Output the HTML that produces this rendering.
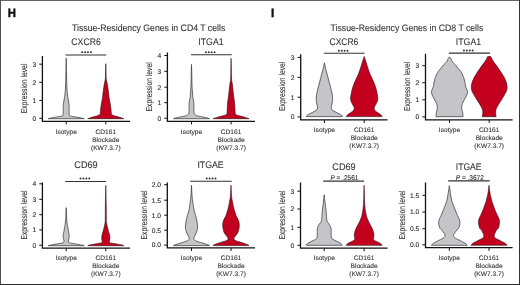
<!DOCTYPE html>
<html><head><meta charset="utf-8"><title>Tissue-Residency Genes</title>
<style>
html,body{margin:0;padding:0;background:#fff;}
#fig{position:relative;width:520px;height:285px;overflow:hidden;background:#fff;font-family:"Liberation Sans", sans-serif;}
#fig svg{position:absolute;left:0;top:0;display:block;will-change:transform;}
#fig svg text{stroke-width:0.1px;}
#fig svg text.sm{stroke-width:0.12px;}
#fig svg text.yl{stroke-width:0.12px;}
#fig svg text.pl{stroke-width:0.4px;}
.bd{position:absolute;}
#bt{left:0;top:0;width:520px;height:1px;background:#646464;}
#bl{left:0;top:0;width:1px;height:285px;background:#505050;}
#br{left:519px;top:0;width:1px;height:285px;background:#333;}
#bb{left:0;top:284px;width:520px;height:1px;background:#2a2a2a;}
</style></head>
<body><div id="fig">
<svg width="520" height="285" viewBox="0 0 520 285" text-rendering="geometricPrecision" font-family='"Liberation Sans", sans-serif'>
<text x="11.85" y="16.80" font-size="12.0" text-anchor="middle" textLength="8.20" lengthAdjust="spacingAndGlyphs" font-weight="bold" fill="#111" stroke="#111" class="pl">H</text>
<text x="272.75" y="16.70" font-size="12.0" text-anchor="middle" font-weight="bold" fill="#111" stroke="#111" class="pl">I</text>
<text x="148.65" y="30.60" font-size="9.4" text-anchor="middle" textLength="153.30" lengthAdjust="spacingAndGlyphs" fill="#333333" stroke="#333333">Tissue-Residency Genes in CD4 T cells</text>
<text x="406.95" y="30.60" font-size="9.4" text-anchor="middle" textLength="152.70" lengthAdjust="spacingAndGlyphs" fill="#333333" stroke="#333333">Tissue-Residency Genes in CD8 T cells</text>
<path d="M66.20,58.10 C66.26,60.92 66.43,70.18 66.55,75.00 C66.67,79.82 66.76,83.83 66.90,87.00 C67.04,90.17 67.20,92.07 67.40,94.00 C67.60,95.93 67.85,97.08 68.10,98.60 C68.35,100.12 68.72,101.58 68.90,103.10 C69.08,104.62 69.17,106.32 69.20,107.70 C69.23,109.08 69.10,110.35 69.10,111.40 C69.10,112.45 69.17,113.38 69.20,114.00 C69.23,114.62 69.15,114.78 69.30,115.10 C69.45,115.42 69.52,115.67 70.10,115.90 C70.68,116.13 72.00,116.35 72.80,116.50 C73.60,116.65 74.20,116.68 74.90,116.80 C75.60,116.92 76.30,117.07 77.00,117.20 C77.70,117.33 78.40,117.47 79.10,117.60 C79.80,117.73 80.47,117.87 81.20,118.00 C81.93,118.13 83.00,118.28 83.50,118.40 C84.00,118.52 84.08,118.65 84.20,118.70 L48.20,118.70 C48.32,118.65 48.40,118.52 48.90,118.40 C49.40,118.28 50.47,118.13 51.20,118.00 C51.93,117.87 52.60,117.73 53.30,117.60 C54.00,117.47 54.70,117.33 55.40,117.20 C56.10,117.07 56.80,116.92 57.50,116.80 C58.20,116.68 58.80,116.65 59.60,116.50 C60.40,116.35 61.72,116.13 62.30,115.90 C62.88,115.67 62.95,115.42 63.10,115.10 C63.25,114.78 63.17,114.62 63.20,114.00 C63.23,113.38 63.30,112.45 63.30,111.40 C63.30,110.35 63.17,109.08 63.20,107.70 C63.23,106.32 63.32,104.62 63.50,103.10 C63.68,101.58 64.05,100.12 64.30,98.60 C64.55,97.08 64.80,95.93 65.00,94.00 C65.20,92.07 65.36,90.17 65.50,87.00 C65.64,83.83 65.73,79.82 65.85,75.00 C65.97,70.18 66.14,60.92 66.20,58.10 Z" fill="#c5c4c8" stroke="#3c3c3c" stroke-width="0.75" stroke-linejoin="round"/>
<path d="M105.80,63.70 C105.83,65.08 105.92,69.45 106.00,72.00 C106.08,74.55 106.07,77.17 106.25,79.00 C106.43,80.83 106.77,81.17 107.10,83.00 C107.42,84.83 107.93,88.17 108.20,90.00 C108.47,91.83 108.53,92.57 108.70,94.00 C108.87,95.43 108.97,97.08 109.20,98.60 C109.43,100.12 109.83,101.58 110.10,103.10 C110.37,104.62 110.62,106.32 110.80,107.70 C110.98,109.08 111.10,110.37 111.20,111.40 C111.30,112.43 111.22,113.32 111.40,113.90 C111.58,114.48 111.73,114.57 112.30,114.90 C112.87,115.23 113.98,115.62 114.80,115.90 C115.62,116.18 116.38,116.37 117.20,116.60 C118.02,116.83 118.80,117.02 119.70,117.30 C120.60,117.58 121.92,118.07 122.60,118.30 C123.28,118.53 123.60,118.63 123.80,118.70 L87.80,118.70 C88.00,118.63 88.32,118.53 89.00,118.30 C89.68,118.07 91.00,117.58 91.90,117.30 C92.80,117.02 93.58,116.83 94.40,116.60 C95.22,116.37 95.98,116.18 96.80,115.90 C97.62,115.62 98.73,115.23 99.30,114.90 C99.87,114.57 100.02,114.48 100.20,113.90 C100.38,113.32 100.30,112.43 100.40,111.40 C100.50,110.37 100.62,109.08 100.80,107.70 C100.98,106.32 101.23,104.62 101.50,103.10 C101.77,101.58 102.17,100.12 102.40,98.60 C102.63,97.08 102.73,95.43 102.90,94.00 C103.07,92.57 103.13,91.83 103.40,90.00 C103.67,88.17 104.17,84.83 104.50,83.00 C104.83,81.17 105.17,80.83 105.35,79.00 C105.53,77.17 105.52,74.55 105.60,72.00 C105.67,69.45 105.77,65.08 105.80,63.70 Z" fill="#c4001f" stroke="#2a0a10" stroke-width="0.6" stroke-linejoin="round"/>
<path d="M42.40,56.00 L42.40,121.30 L130.00,121.30" fill="none" stroke="#111111" stroke-width="1.3"/>
<line x1="39.30" y1="118.30" x2="42.40" y2="118.30" stroke="#111111" stroke-width="1.0"/>
<text x="36.20" y="120.65" font-size="6.7" text-anchor="end" fill="#2e2e2e" stroke="#2e2e2e" class="sm">0</text>
<line x1="39.30" y1="100.40" x2="42.40" y2="100.40" stroke="#111111" stroke-width="1.0"/>
<text x="36.20" y="102.75" font-size="6.7" text-anchor="end" fill="#2e2e2e" stroke="#2e2e2e" class="sm">1</text>
<line x1="39.30" y1="82.30" x2="42.40" y2="82.30" stroke="#111111" stroke-width="1.0"/>
<text x="36.20" y="84.65" font-size="6.7" text-anchor="end" fill="#2e2e2e" stroke="#2e2e2e" class="sm">2</text>
<line x1="39.30" y1="64.20" x2="42.40" y2="64.20" stroke="#111111" stroke-width="1.0"/>
<text x="36.20" y="66.55" font-size="6.7" text-anchor="end" fill="#2e2e2e" stroke="#2e2e2e" class="sm">3</text>
<line x1="66.20" y1="121.30" x2="66.20" y2="124.40" stroke="#111111" stroke-width="1.0"/>
<line x1="105.80" y1="121.30" x2="105.80" y2="124.40" stroke="#111111" stroke-width="1.0"/>
<text x="86.05" y="44.50" font-size="9.6" text-anchor="middle" textLength="29.50" lengthAdjust="spacingAndGlyphs" fill="#333333" stroke="#333333">CXCR6</text>
<line x1="65.50" y1="55.00" x2="106.30" y2="55.00" stroke="#333" stroke-width="1.1"/>
<circle cx="82.15" cy="52.20" r="1.0" fill="#333"/>
<circle cx="85.05" cy="52.20" r="1.0" fill="#333"/>
<circle cx="87.95" cy="52.20" r="1.0" fill="#333"/>
<circle cx="90.85" cy="52.20" r="1.0" fill="#333"/>
<text x="0" y="0" font-size="8.6" text-anchor="middle" class="yl" fill="#333333" stroke="#333333" textLength="49.60" lengthAdjust="spacingAndGlyphs" transform="translate(26.70,88.40) rotate(-90)">Expression level</text>
<text x="66.20" y="133.70" font-size="6.6" text-anchor="middle" fill="#3a3a3a" stroke="#3a3a3a" class="sm">Isotype</text>
<text x="105.80" y="133.70" font-size="6.6" text-anchor="middle" fill="#3a3a3a" stroke="#3a3a3a" class="sm">CD161</text>
<text x="105.80" y="141.70" font-size="6.6" text-anchor="middle" fill="#3a3a3a" stroke="#3a3a3a" class="sm">Blockade</text>
<text x="105.80" y="149.70" font-size="6.6" text-anchor="middle" fill="#3a3a3a" stroke="#3a3a3a" class="sm">(KW7.3.7)</text>
<path d="M191.50,64.50 C191.55,66.25 191.72,71.58 191.80,75.00 C191.88,78.42 191.92,82.50 192.00,85.00 C192.08,87.50 192.20,88.50 192.30,90.00 C192.40,91.50 192.48,92.57 192.60,94.00 C192.72,95.43 192.82,97.38 193.00,98.60 C193.18,99.82 193.55,100.08 193.70,101.30 C193.85,102.52 193.87,104.38 193.90,105.90 C193.93,107.42 193.87,109.22 193.90,110.40 C193.93,111.58 194.02,112.42 194.10,113.00 C194.18,113.58 194.03,113.48 194.40,113.90 C194.77,114.32 195.63,115.13 196.30,115.50 C196.97,115.87 197.70,115.93 198.40,116.10 C199.10,116.27 199.80,116.37 200.50,116.50 C201.20,116.63 201.90,116.75 202.60,116.90 C203.30,117.05 204.00,117.25 204.70,117.40 C205.40,117.55 206.10,117.63 206.80,117.80 C207.50,117.97 208.45,118.25 208.90,118.40 C209.35,118.55 209.40,118.65 209.50,118.70 L173.50,118.70 C173.60,118.65 173.65,118.55 174.10,118.40 C174.55,118.25 175.50,117.97 176.20,117.80 C176.90,117.63 177.60,117.55 178.30,117.40 C179.00,117.25 179.70,117.05 180.40,116.90 C181.10,116.75 181.80,116.63 182.50,116.50 C183.20,116.37 183.90,116.27 184.60,116.10 C185.30,115.93 186.03,115.87 186.70,115.50 C187.37,115.13 188.23,114.32 188.60,113.90 C188.97,113.48 188.82,113.58 188.90,113.00 C188.98,112.42 189.07,111.58 189.10,110.40 C189.13,109.22 189.07,107.42 189.10,105.90 C189.13,104.38 189.15,102.52 189.30,101.30 C189.45,100.08 189.82,99.82 190.00,98.60 C190.18,97.38 190.28,95.43 190.40,94.00 C190.52,92.57 190.60,91.50 190.70,90.00 C190.80,88.50 190.92,87.50 191.00,85.00 C191.08,82.50 191.12,78.42 191.20,75.00 C191.28,71.58 191.45,66.25 191.50,64.50 Z" fill="#c5c4c8" stroke="#3c3c3c" stroke-width="0.75" stroke-linejoin="round"/>
<path d="M231.10,58.30 C231.13,60.25 231.22,66.55 231.30,70.00 C231.37,73.45 231.38,76.67 231.55,79.00 C231.72,81.33 232.06,82.17 232.30,84.00 C232.54,85.83 232.82,88.33 233.00,90.00 C233.18,91.67 233.23,92.57 233.40,94.00 C233.57,95.43 233.80,97.08 234.00,98.60 C234.20,100.12 234.45,101.58 234.60,103.10 C234.75,104.62 234.82,106.32 234.90,107.70 C234.98,109.08 235.05,110.40 235.10,111.40 C235.15,112.40 235.07,113.17 235.20,113.70 C235.33,114.23 235.45,114.32 235.90,114.60 C236.35,114.88 237.15,115.15 237.90,115.40 C238.65,115.65 239.58,115.87 240.40,116.10 C241.22,116.33 241.98,116.58 242.80,116.80 C243.62,117.02 244.40,117.15 245.30,117.40 C246.20,117.65 247.57,118.08 248.20,118.30 C248.83,118.52 248.95,118.63 249.10,118.70 L213.10,118.70 C213.25,118.63 213.37,118.52 214.00,118.30 C214.63,118.08 216.00,117.65 216.90,117.40 C217.80,117.15 218.58,117.02 219.40,116.80 C220.22,116.58 220.98,116.33 221.80,116.10 C222.62,115.87 223.55,115.65 224.30,115.40 C225.05,115.15 225.85,114.88 226.30,114.60 C226.75,114.32 226.87,114.23 227.00,113.70 C227.13,113.17 227.05,112.40 227.10,111.40 C227.15,110.40 227.22,109.08 227.30,107.70 C227.38,106.32 227.45,104.62 227.60,103.10 C227.75,101.58 228.00,100.12 228.20,98.60 C228.40,97.08 228.63,95.43 228.80,94.00 C228.97,92.57 229.02,91.67 229.20,90.00 C229.38,88.33 229.66,85.83 229.90,84.00 C230.14,82.17 230.48,81.33 230.65,79.00 C230.82,76.67 230.83,73.45 230.90,70.00 C230.97,66.55 231.07,60.25 231.10,58.30 Z" fill="#c4001f" stroke="#2a0a10" stroke-width="0.6" stroke-linejoin="round"/>
<path d="M167.40,52.50 L167.40,121.30 L255.00,121.30" fill="none" stroke="#111111" stroke-width="1.3"/>
<line x1="164.30" y1="118.20" x2="167.40" y2="118.20" stroke="#111111" stroke-width="1.0"/>
<text x="161.20" y="120.55" font-size="6.7" text-anchor="end" fill="#2e2e2e" stroke="#2e2e2e" class="sm">0</text>
<line x1="164.30" y1="102.70" x2="167.40" y2="102.70" stroke="#111111" stroke-width="1.0"/>
<text x="161.20" y="105.05" font-size="6.7" text-anchor="end" fill="#2e2e2e" stroke="#2e2e2e" class="sm">1</text>
<line x1="164.30" y1="87.20" x2="167.40" y2="87.20" stroke="#111111" stroke-width="1.0"/>
<text x="161.20" y="89.55" font-size="6.7" text-anchor="end" fill="#2e2e2e" stroke="#2e2e2e" class="sm">2</text>
<line x1="164.30" y1="71.30" x2="167.40" y2="71.30" stroke="#111111" stroke-width="1.0"/>
<text x="161.20" y="73.65" font-size="6.7" text-anchor="end" fill="#2e2e2e" stroke="#2e2e2e" class="sm">3</text>
<line x1="164.30" y1="55.50" x2="167.40" y2="55.50" stroke="#111111" stroke-width="1.0"/>
<text x="161.20" y="57.85" font-size="6.7" text-anchor="end" fill="#2e2e2e" stroke="#2e2e2e" class="sm">4</text>
<line x1="191.50" y1="121.30" x2="191.50" y2="124.40" stroke="#111111" stroke-width="1.0"/>
<line x1="231.10" y1="121.30" x2="231.10" y2="124.40" stroke="#111111" stroke-width="1.0"/>
<text x="210.95" y="44.60" font-size="9.6" text-anchor="middle" textLength="25.30" lengthAdjust="spacingAndGlyphs" fill="#333333" stroke="#333333">ITGA1</text>
<line x1="191.00" y1="54.80" x2="231.70" y2="54.80" stroke="#333" stroke-width="1.1"/>
<circle cx="205.85" cy="52.20" r="1.0" fill="#333"/>
<circle cx="208.75" cy="52.20" r="1.0" fill="#333"/>
<circle cx="211.65" cy="52.20" r="1.0" fill="#333"/>
<circle cx="214.55" cy="52.20" r="1.0" fill="#333"/>
<text x="0" y="0" font-size="8.6" text-anchor="middle" class="yl" fill="#333333" stroke="#333333" textLength="49.20" lengthAdjust="spacingAndGlyphs" transform="translate(152.00,86.90) rotate(-90)">Expression level</text>
<text x="191.50" y="133.70" font-size="6.6" text-anchor="middle" fill="#3a3a3a" stroke="#3a3a3a" class="sm">Isotype</text>
<text x="231.10" y="133.70" font-size="6.6" text-anchor="middle" fill="#3a3a3a" stroke="#3a3a3a" class="sm">CD161</text>
<text x="231.10" y="141.70" font-size="6.6" text-anchor="middle" fill="#3a3a3a" stroke="#3a3a3a" class="sm">Blockade</text>
<text x="231.10" y="149.70" font-size="6.6" text-anchor="middle" fill="#3a3a3a" stroke="#3a3a3a" class="sm">(KW7.3.7)</text>
<path d="M66.20,207.70 C66.25,208.92 66.38,212.62 66.50,215.00 C66.62,217.38 66.70,220.07 66.90,222.00 C67.10,223.93 67.45,225.08 67.70,226.60 C67.95,228.12 68.17,229.73 68.40,231.10 C68.63,232.47 68.97,233.75 69.10,234.80 C69.23,235.85 69.27,236.62 69.20,237.40 C69.13,238.18 68.85,238.90 68.70,239.50 C68.55,240.10 68.33,240.55 68.30,241.00 C68.27,241.45 68.32,241.90 68.50,242.20 C68.68,242.50 68.87,242.62 69.40,242.80 C69.93,242.98 70.93,243.15 71.70,243.30 C72.47,243.45 73.23,243.57 74.00,243.70 C74.77,243.83 75.53,243.98 76.30,244.10 C77.07,244.22 77.85,244.27 78.60,244.40 C79.35,244.53 79.97,244.73 80.80,244.90 C81.63,245.07 83.03,245.27 83.60,245.40 C84.17,245.53 84.10,245.65 84.20,245.70 L48.20,245.70 C48.30,245.65 48.23,245.53 48.80,245.40 C49.37,245.27 50.77,245.07 51.60,244.90 C52.43,244.73 53.05,244.53 53.80,244.40 C54.55,244.27 55.33,244.22 56.10,244.10 C56.87,243.98 57.63,243.83 58.40,243.70 C59.17,243.57 59.93,243.45 60.70,243.30 C61.47,243.15 62.47,242.98 63.00,242.80 C63.53,242.62 63.72,242.50 63.90,242.20 C64.08,241.90 64.13,241.45 64.10,241.00 C64.07,240.55 63.85,240.10 63.70,239.50 C63.55,238.90 63.27,238.18 63.20,237.40 C63.13,236.62 63.17,235.85 63.30,234.80 C63.43,233.75 63.77,232.47 64.00,231.10 C64.23,229.73 64.45,228.12 64.70,226.60 C64.95,225.08 65.30,223.93 65.50,222.00 C65.70,220.07 65.78,217.38 65.90,215.00 C66.02,212.62 66.15,208.92 66.20,207.70 Z" fill="#c5c4c8" stroke="#3c3c3c" stroke-width="0.75" stroke-linejoin="round"/>
<path d="M105.80,185.40 C105.87,188.67 106.12,199.57 106.20,205.00 C106.28,210.43 106.27,215.17 106.30,218.00 C106.33,220.83 106.23,220.57 106.40,222.00 C106.57,223.43 106.97,225.08 107.30,226.60 C107.63,228.12 108.07,229.87 108.40,231.10 C108.73,232.33 109.05,232.98 109.30,234.00 C109.55,235.02 109.85,236.15 109.90,237.20 C109.95,238.25 109.70,239.52 109.60,240.30 C109.50,241.08 109.17,241.47 109.30,241.90 C109.43,242.33 109.60,242.63 110.40,242.90 C111.20,243.17 113.05,243.32 114.10,243.50 C115.15,243.68 115.83,243.83 116.70,244.00 C117.57,244.17 118.33,244.32 119.30,244.50 C120.27,244.68 121.75,244.90 122.50,245.10 C123.25,245.30 123.58,245.60 123.80,245.70 L87.80,245.70 C88.02,245.60 88.35,245.30 89.10,245.10 C89.85,244.90 91.33,244.68 92.30,244.50 C93.27,244.32 94.03,244.17 94.90,244.00 C95.77,243.83 96.45,243.68 97.50,243.50 C98.55,243.32 100.40,243.17 101.20,242.90 C102.00,242.63 102.17,242.33 102.30,241.90 C102.43,241.47 102.10,241.08 102.00,240.30 C101.90,239.52 101.65,238.25 101.70,237.20 C101.75,236.15 102.05,235.02 102.30,234.00 C102.55,232.98 102.87,232.33 103.20,231.10 C103.53,229.87 103.97,228.12 104.30,226.60 C104.63,225.08 105.03,223.43 105.20,222.00 C105.37,220.57 105.27,220.83 105.30,218.00 C105.33,215.17 105.32,210.43 105.40,205.00 C105.48,199.57 105.73,188.67 105.80,185.40 Z" fill="#c4001f" stroke="#2a0a10" stroke-width="0.6" stroke-linejoin="round"/>
<path d="M42.40,182.40 L42.40,248.20 L130.00,248.20" fill="none" stroke="#111111" stroke-width="1.3"/>
<line x1="39.30" y1="245.20" x2="42.40" y2="245.20" stroke="#111111" stroke-width="1.0"/>
<text x="36.20" y="247.55" font-size="6.7" text-anchor="end" fill="#2e2e2e" stroke="#2e2e2e" class="sm">0</text>
<line x1="39.30" y1="229.90" x2="42.40" y2="229.90" stroke="#111111" stroke-width="1.0"/>
<text x="36.20" y="232.25" font-size="6.7" text-anchor="end" fill="#2e2e2e" stroke="#2e2e2e" class="sm">1</text>
<line x1="39.30" y1="214.70" x2="42.40" y2="214.70" stroke="#111111" stroke-width="1.0"/>
<text x="36.20" y="217.05" font-size="6.7" text-anchor="end" fill="#2e2e2e" stroke="#2e2e2e" class="sm">2</text>
<line x1="39.30" y1="199.30" x2="42.40" y2="199.30" stroke="#111111" stroke-width="1.0"/>
<text x="36.20" y="201.65" font-size="6.7" text-anchor="end" fill="#2e2e2e" stroke="#2e2e2e" class="sm">3</text>
<line x1="39.30" y1="183.80" x2="42.40" y2="183.80" stroke="#111111" stroke-width="1.0"/>
<text x="36.20" y="186.15" font-size="6.7" text-anchor="end" fill="#2e2e2e" stroke="#2e2e2e" class="sm">4</text>
<line x1="66.20" y1="248.20" x2="66.20" y2="251.30" stroke="#111111" stroke-width="1.0"/>
<line x1="105.80" y1="248.20" x2="105.80" y2="251.30" stroke="#111111" stroke-width="1.0"/>
<text x="85.95" y="168.30" font-size="9.6" text-anchor="middle" textLength="23.30" lengthAdjust="spacingAndGlyphs" fill="#333333" stroke="#333333">CD69</text>
<line x1="65.20" y1="181.50" x2="106.10" y2="181.50" stroke="#333" stroke-width="1.1"/>
<circle cx="80.55" cy="178.60" r="1.0" fill="#333"/>
<circle cx="83.45" cy="178.60" r="1.0" fill="#333"/>
<circle cx="86.35" cy="178.60" r="1.0" fill="#333"/>
<circle cx="89.25" cy="178.60" r="1.0" fill="#333"/>
<text x="0" y="0" font-size="8.6" text-anchor="middle" class="yl" fill="#333333" stroke="#333333" textLength="49.10" lengthAdjust="spacingAndGlyphs" transform="translate(27.00,214.95) rotate(-90)">Expression level</text>
<text x="66.20" y="260.40" font-size="6.6" text-anchor="middle" fill="#3a3a3a" stroke="#3a3a3a" class="sm">Isotype</text>
<text x="105.80" y="260.40" font-size="6.6" text-anchor="middle" fill="#3a3a3a" stroke="#3a3a3a" class="sm">CD161</text>
<text x="105.80" y="268.30" font-size="6.6" text-anchor="middle" fill="#3a3a3a" stroke="#3a3a3a" class="sm">Blockade</text>
<text x="105.80" y="276.20" font-size="6.6" text-anchor="middle" fill="#3a3a3a" stroke="#3a3a3a" class="sm">(KW7.3.7)</text>
<path d="M191.50,185.30 C191.58,186.95 191.82,192.60 192.00,195.20 C192.18,197.80 192.37,199.02 192.60,200.90 C192.83,202.78 193.08,204.63 193.40,206.50 C193.72,208.37 194.13,210.60 194.50,212.10 C194.87,213.60 195.23,214.18 195.60,215.50 C195.97,216.82 196.37,218.25 196.70,220.00 C197.03,221.75 197.52,224.35 197.60,226.00 C197.68,227.65 197.50,228.62 197.20,229.90 C196.90,231.18 196.23,232.67 195.80,233.70 C195.37,234.73 194.93,235.35 194.60,236.10 C194.27,236.85 193.88,237.58 193.80,238.20 C193.72,238.82 193.80,239.37 194.10,239.80 C194.40,240.23 195.00,240.50 195.60,240.80 C196.20,241.10 196.90,241.33 197.70,241.60 C198.50,241.87 199.52,242.13 200.40,242.40 C201.28,242.67 202.13,242.93 203.00,243.20 C203.87,243.47 204.63,243.68 205.60,244.00 C206.57,244.32 208.15,244.83 208.80,245.10 C209.45,245.37 209.38,245.52 209.50,245.60 L173.50,245.60 C173.62,245.52 173.55,245.37 174.20,245.10 C174.85,244.83 176.43,244.32 177.40,244.00 C178.37,243.68 179.13,243.47 180.00,243.20 C180.87,242.93 181.72,242.67 182.60,242.40 C183.48,242.13 184.50,241.87 185.30,241.60 C186.10,241.33 186.80,241.10 187.40,240.80 C188.00,240.50 188.60,240.23 188.90,239.80 C189.20,239.37 189.28,238.82 189.20,238.20 C189.12,237.58 188.73,236.85 188.40,236.10 C188.07,235.35 187.63,234.73 187.20,233.70 C186.77,232.67 186.10,231.18 185.80,229.90 C185.50,228.62 185.32,227.65 185.40,226.00 C185.48,224.35 185.97,221.75 186.30,220.00 C186.63,218.25 187.03,216.82 187.40,215.50 C187.77,214.18 188.13,213.60 188.50,212.10 C188.87,210.60 189.28,208.37 189.60,206.50 C189.92,204.63 190.17,202.78 190.40,200.90 C190.63,199.02 190.82,197.80 191.00,195.20 C191.18,192.60 191.42,186.95 191.50,185.30 Z" fill="#c5c4c8" stroke="#3c3c3c" stroke-width="0.75" stroke-linejoin="round"/>
<path d="M231.00,185.30 C231.08,186.95 231.28,192.60 231.50,195.20 C231.72,197.80 231.98,199.02 232.30,200.90 C232.62,202.78 232.97,204.63 233.40,206.50 C233.83,208.37 234.47,210.60 234.90,212.10 C235.33,213.60 235.63,214.58 236.00,215.50 C236.37,216.42 236.65,216.65 237.10,217.60 C237.55,218.55 238.33,220.02 238.70,221.20 C239.07,222.38 239.25,223.52 239.30,224.70 C239.35,225.88 239.20,227.10 239.00,228.30 C238.80,229.50 238.45,230.95 238.10,231.90 C237.75,232.85 237.35,233.30 236.90,234.00 C236.45,234.70 235.88,235.40 235.40,236.10 C234.92,236.80 234.18,237.58 234.00,238.20 C233.82,238.82 233.98,239.37 234.30,239.80 C234.62,240.23 235.20,240.50 235.90,240.80 C236.60,241.10 237.62,241.33 238.50,241.60 C239.38,241.87 240.32,242.13 241.20,242.40 C242.08,242.67 243.02,242.93 243.80,243.20 C244.58,243.47 245.12,243.68 245.90,244.00 C246.68,244.32 247.98,244.83 248.50,245.10 C249.02,245.37 248.92,245.52 249.00,245.60 L213.00,245.60 C213.08,245.52 212.98,245.37 213.50,245.10 C214.02,244.83 215.32,244.32 216.10,244.00 C216.88,243.68 217.42,243.47 218.20,243.20 C218.98,242.93 219.92,242.67 220.80,242.40 C221.68,242.13 222.62,241.87 223.50,241.60 C224.38,241.33 225.40,241.10 226.10,240.80 C226.80,240.50 227.38,240.23 227.70,239.80 C228.02,239.37 228.18,238.82 228.00,238.20 C227.82,237.58 227.08,236.80 226.60,236.10 C226.12,235.40 225.55,234.70 225.10,234.00 C224.65,233.30 224.25,232.85 223.90,231.90 C223.55,230.95 223.20,229.50 223.00,228.30 C222.80,227.10 222.65,225.88 222.70,224.70 C222.75,223.52 222.93,222.38 223.30,221.20 C223.67,220.02 224.45,218.55 224.90,217.60 C225.35,216.65 225.63,216.42 226.00,215.50 C226.37,214.58 226.67,213.60 227.10,212.10 C227.53,210.60 228.17,208.37 228.60,206.50 C229.03,204.63 229.38,202.78 229.70,200.90 C230.02,199.02 230.28,197.80 230.50,195.20 C230.72,192.60 230.92,186.95 231.00,185.30 Z" fill="#c4001f" stroke="#2a0a10" stroke-width="0.6" stroke-linejoin="round"/>
<path d="M167.30,182.60 L167.30,247.90 L255.00,247.90" fill="none" stroke="#111111" stroke-width="1.3"/>
<line x1="164.20" y1="245.10" x2="167.30" y2="245.10" stroke="#111111" stroke-width="1.0"/>
<text x="161.10" y="247.45" font-size="6.7" text-anchor="end" fill="#2e2e2e" stroke="#2e2e2e" class="sm">0.0</text>
<line x1="164.20" y1="230.20" x2="167.30" y2="230.20" stroke="#111111" stroke-width="1.0"/>
<text x="161.10" y="232.55" font-size="6.7" text-anchor="end" fill="#2e2e2e" stroke="#2e2e2e" class="sm">0.5</text>
<line x1="164.20" y1="215.20" x2="167.30" y2="215.20" stroke="#111111" stroke-width="1.0"/>
<text x="161.10" y="217.55" font-size="6.7" text-anchor="end" fill="#2e2e2e" stroke="#2e2e2e" class="sm">1.0</text>
<line x1="164.20" y1="200.20" x2="167.30" y2="200.20" stroke="#111111" stroke-width="1.0"/>
<text x="161.10" y="202.55" font-size="6.7" text-anchor="end" fill="#2e2e2e" stroke="#2e2e2e" class="sm">1.5</text>
<line x1="164.20" y1="184.70" x2="167.30" y2="184.70" stroke="#111111" stroke-width="1.0"/>
<text x="161.10" y="187.05" font-size="6.7" text-anchor="end" fill="#2e2e2e" stroke="#2e2e2e" class="sm">2.0</text>
<line x1="191.50" y1="247.90" x2="191.50" y2="251.00" stroke="#111111" stroke-width="1.0"/>
<line x1="231.00" y1="247.90" x2="231.00" y2="251.00" stroke="#111111" stroke-width="1.0"/>
<text x="210.50" y="168.30" font-size="9.6" text-anchor="middle" textLength="26.20" lengthAdjust="spacingAndGlyphs" fill="#333333" stroke="#333333">ITGAE</text>
<line x1="190.20" y1="181.30" x2="231.70" y2="181.30" stroke="#333" stroke-width="1.1"/>
<circle cx="206.75" cy="178.60" r="1.0" fill="#333"/>
<circle cx="209.65" cy="178.60" r="1.0" fill="#333"/>
<circle cx="212.55" cy="178.60" r="1.0" fill="#333"/>
<circle cx="215.45" cy="178.60" r="1.0" fill="#333"/>
<text x="0" y="0" font-size="8.6" text-anchor="middle" class="yl" fill="#333333" stroke="#333333" textLength="49.00" lengthAdjust="spacingAndGlyphs" transform="translate(146.60,214.90) rotate(-90)">Expression level</text>
<text x="191.50" y="260.40" font-size="6.6" text-anchor="middle" fill="#3a3a3a" stroke="#3a3a3a" class="sm">Isotype</text>
<text x="231.00" y="260.40" font-size="6.6" text-anchor="middle" fill="#3a3a3a" stroke="#3a3a3a" class="sm">CD161</text>
<text x="231.00" y="268.30" font-size="6.6" text-anchor="middle" fill="#3a3a3a" stroke="#3a3a3a" class="sm">Blockade</text>
<text x="231.00" y="276.20" font-size="6.6" text-anchor="middle" fill="#3a3a3a" stroke="#3a3a3a" class="sm">(KW7.3.7)</text>
<path d="M324.40,62.80 C324.60,63.73 325.15,66.53 325.60,68.40 C326.05,70.27 326.55,71.88 327.10,74.00 C327.65,76.12 328.28,78.75 328.90,81.10 C329.52,83.45 330.23,85.77 330.80,88.10 C331.37,90.43 332.00,93.23 332.30,95.10 C332.60,96.97 332.65,97.82 332.60,99.30 C332.55,100.78 332.20,102.87 332.00,104.00 C331.80,105.13 331.52,105.40 331.40,106.10 C331.28,106.80 331.20,107.58 331.30,108.20 C331.40,108.82 331.58,109.32 332.00,109.80 C332.42,110.28 333.15,110.70 333.80,111.10 C334.45,111.50 335.20,111.85 335.90,112.20 C336.60,112.55 337.30,112.85 338.00,113.20 C338.70,113.55 339.43,113.90 340.10,114.30 C340.77,114.70 341.62,115.22 342.00,115.60 C342.38,115.98 342.33,116.43 342.40,116.60 L306.40,116.60 C306.47,116.43 306.42,115.98 306.80,115.60 C307.18,115.22 308.03,114.70 308.70,114.30 C309.37,113.90 310.10,113.55 310.80,113.20 C311.50,112.85 312.20,112.55 312.90,112.20 C313.60,111.85 314.35,111.50 315.00,111.10 C315.65,110.70 316.38,110.28 316.80,109.80 C317.22,109.32 317.40,108.82 317.50,108.20 C317.60,107.58 317.52,106.80 317.40,106.10 C317.28,105.40 317.00,105.13 316.80,104.00 C316.60,102.87 316.25,100.78 316.20,99.30 C316.15,97.82 316.20,96.97 316.50,95.10 C316.80,93.23 317.43,90.43 318.00,88.10 C318.57,85.77 319.28,83.45 319.90,81.10 C320.52,78.75 321.15,76.12 321.70,74.00 C322.25,71.88 322.75,70.27 323.20,68.40 C323.65,66.53 324.20,63.73 324.40,62.80 Z" fill="#c5c4c8" stroke="#3c3c3c" stroke-width="0.75" stroke-linejoin="round"/>
<path d="M364.20,56.40 C364.43,57.08 365.13,59.02 365.60,60.50 C366.07,61.98 366.50,63.68 367.00,65.30 C367.50,66.92 368.03,68.58 368.60,70.20 C369.17,71.82 369.72,73.40 370.40,75.00 C371.08,76.60 371.97,78.18 372.70,79.80 C373.43,81.42 374.20,83.08 374.80,84.70 C375.40,86.32 375.88,87.88 376.30,89.50 C376.72,91.12 377.05,92.78 377.30,94.40 C377.55,96.02 377.95,97.72 377.80,99.20 C377.65,100.68 376.93,102.05 376.40,103.30 C375.87,104.55 374.97,105.80 374.60,106.70 C374.23,107.60 374.12,108.03 374.20,108.70 C374.28,109.37 374.50,110.03 375.10,110.70 C375.70,111.37 376.95,112.10 377.80,112.70 C378.65,113.30 379.52,113.75 380.20,114.30 C380.88,114.85 381.57,115.62 381.90,116.00 C382.23,116.38 382.15,116.50 382.20,116.60 L346.20,116.60 C346.25,116.50 346.17,116.38 346.50,116.00 C346.83,115.62 347.52,114.85 348.20,114.30 C348.88,113.75 349.75,113.30 350.60,112.70 C351.45,112.10 352.70,111.37 353.30,110.70 C353.90,110.03 354.12,109.37 354.20,108.70 C354.28,108.03 354.17,107.60 353.80,106.70 C353.43,105.80 352.53,104.55 352.00,103.30 C351.47,102.05 350.75,100.68 350.60,99.20 C350.45,97.72 350.85,96.02 351.10,94.40 C351.35,92.78 351.68,91.12 352.10,89.50 C352.52,87.88 353.00,86.32 353.60,84.70 C354.20,83.08 354.97,81.42 355.70,79.80 C356.43,78.18 357.32,76.60 358.00,75.00 C358.68,73.40 359.23,71.82 359.80,70.20 C360.37,68.58 360.90,66.92 361.40,65.30 C361.90,63.68 362.33,61.98 362.80,60.50 C363.27,59.02 363.97,57.08 364.20,56.40 Z" fill="#c4001f" stroke="#2a0a10" stroke-width="0.6" stroke-linejoin="round"/>
<path d="M300.70,54.30 L300.70,119.90 L387.50,119.90" fill="none" stroke="#111111" stroke-width="1.3"/>
<line x1="297.60" y1="116.90" x2="300.70" y2="116.90" stroke="#111111" stroke-width="1.0"/>
<text x="294.50" y="119.25" font-size="6.7" text-anchor="end" fill="#2e2e2e" stroke="#2e2e2e" class="sm">0</text>
<line x1="297.60" y1="97.20" x2="300.70" y2="97.20" stroke="#111111" stroke-width="1.0"/>
<text x="294.50" y="99.55" font-size="6.7" text-anchor="end" fill="#2e2e2e" stroke="#2e2e2e" class="sm">1</text>
<line x1="297.60" y1="77.30" x2="300.70" y2="77.30" stroke="#111111" stroke-width="1.0"/>
<text x="294.50" y="79.65" font-size="6.7" text-anchor="end" fill="#2e2e2e" stroke="#2e2e2e" class="sm">2</text>
<line x1="297.60" y1="57.40" x2="300.70" y2="57.40" stroke="#111111" stroke-width="1.0"/>
<text x="294.50" y="59.75" font-size="6.7" text-anchor="end" fill="#2e2e2e" stroke="#2e2e2e" class="sm">3</text>
<line x1="324.40" y1="119.90" x2="324.40" y2="123.00" stroke="#111111" stroke-width="1.0"/>
<line x1="364.20" y1="119.90" x2="364.20" y2="123.00" stroke="#111111" stroke-width="1.0"/>
<text x="343.95" y="44.50" font-size="9.6" text-anchor="middle" textLength="28.70" lengthAdjust="spacingAndGlyphs" fill="#333333" stroke="#333333">CXCR6</text>
<line x1="323.80" y1="53.30" x2="364.50" y2="53.30" stroke="#333" stroke-width="1.1"/>
<circle cx="338.85" cy="50.70" r="1.0" fill="#333"/>
<circle cx="341.75" cy="50.70" r="1.0" fill="#333"/>
<circle cx="344.65" cy="50.70" r="1.0" fill="#333"/>
<circle cx="347.55" cy="50.70" r="1.0" fill="#333"/>
<text x="0" y="0" font-size="8.6" text-anchor="middle" class="yl" fill="#333333" stroke="#333333" textLength="49.30" lengthAdjust="spacingAndGlyphs" transform="translate(284.50,86.35) rotate(-90)">Expression level</text>
<text x="324.40" y="132.00" font-size="6.6" text-anchor="middle" fill="#3a3a3a" stroke="#3a3a3a" class="sm">Isotype</text>
<text x="364.20" y="132.00" font-size="6.6" text-anchor="middle" fill="#3a3a3a" stroke="#3a3a3a" class="sm">CD161</text>
<text x="364.20" y="140.00" font-size="6.6" text-anchor="middle" fill="#3a3a3a" stroke="#3a3a3a" class="sm">Blockade</text>
<text x="364.20" y="148.00" font-size="6.6" text-anchor="middle" fill="#3a3a3a" stroke="#3a3a3a" class="sm">(KW7.3.7)</text>
<path d="M450.00,57.20 C450.17,57.48 450.62,58.15 451.00,58.90 C451.38,59.65 451.60,60.75 452.30,61.70 C453.00,62.65 454.25,63.53 455.20,64.60 C456.15,65.67 457.07,66.93 458.00,68.10 C458.93,69.27 460.02,70.45 460.80,71.60 C461.58,72.75 462.22,74.02 462.70,75.00 C463.18,75.98 463.33,76.33 463.70,77.50 C464.07,78.67 464.58,80.50 464.90,82.00 C465.22,83.50 465.20,85.07 465.60,86.50 C466.00,87.93 467.03,89.33 467.30,90.60 C467.57,91.87 467.60,92.75 467.20,94.10 C466.80,95.45 465.68,97.15 464.90,98.70 C464.12,100.25 463.03,101.95 462.50,103.40 C461.97,104.85 461.72,106.05 461.70,107.40 C461.68,108.75 462.18,110.33 462.40,111.50 C462.62,112.67 462.90,113.53 463.00,114.40 C463.10,115.27 463.00,116.32 463.00,116.70 L436.00,116.70 C436.00,116.32 435.90,115.27 436.00,114.40 C436.10,113.53 436.38,112.67 436.60,111.50 C436.82,110.33 437.32,108.75 437.30,107.40 C437.28,106.05 437.03,104.85 436.50,103.40 C435.97,101.95 434.88,100.25 434.10,98.70 C433.32,97.15 432.20,95.45 431.80,94.10 C431.40,92.75 431.43,91.87 431.70,90.60 C431.97,89.33 433.00,87.93 433.40,86.50 C433.80,85.07 433.78,83.50 434.10,82.00 C434.42,80.50 434.93,78.67 435.30,77.50 C435.67,76.33 435.82,75.98 436.30,75.00 C436.78,74.02 437.42,72.75 438.20,71.60 C438.98,70.45 440.07,69.27 441.00,68.10 C441.93,66.93 442.85,65.67 443.80,64.60 C444.75,63.53 446.00,62.65 446.70,61.70 C447.40,60.75 447.62,59.65 448.00,58.90 C448.38,58.15 448.83,57.48 449.00,57.20 Z" fill="#c5c4c8" stroke="#3c3c3c" stroke-width="0.75" stroke-linejoin="round"/>
<path d="M490.70,56.50 C490.77,56.63 490.90,56.88 491.10,57.30 C491.30,57.72 491.57,58.38 491.90,59.00 C492.23,59.62 492.47,60.07 493.10,61.00 C493.73,61.93 494.85,63.42 495.70,64.60 C496.55,65.78 497.38,66.93 498.20,68.10 C499.02,69.27 499.83,70.45 500.60,71.60 C501.37,72.75 502.18,74.02 502.80,75.00 C503.42,75.98 503.73,76.33 504.30,77.50 C504.87,78.67 505.73,80.50 506.20,82.00 C506.67,83.50 507.03,85.07 507.10,86.50 C507.17,87.93 507.08,89.13 506.60,90.60 C506.12,92.07 505.07,93.75 504.20,95.30 C503.33,96.85 502.35,98.37 501.40,99.90 C500.45,101.43 499.38,102.97 498.50,104.50 C497.62,106.03 496.58,107.75 496.10,109.10 C495.62,110.45 495.60,111.33 495.60,112.60 C495.60,113.87 496.02,116.02 496.10,116.70 L482.30,116.70 C482.38,116.02 482.80,113.87 482.80,112.60 C482.80,111.33 482.78,110.45 482.30,109.10 C481.82,107.75 480.78,106.03 479.90,104.50 C479.02,102.97 477.95,101.43 477.00,99.90 C476.05,98.37 475.07,96.85 474.20,95.30 C473.33,93.75 472.28,92.07 471.80,90.60 C471.32,89.13 471.23,87.93 471.30,86.50 C471.37,85.07 471.73,83.50 472.20,82.00 C472.67,80.50 473.53,78.67 474.10,77.50 C474.67,76.33 474.98,75.98 475.60,75.00 C476.22,74.02 477.03,72.75 477.80,71.60 C478.57,70.45 479.38,69.27 480.20,68.10 C481.02,66.93 481.85,65.78 482.70,64.60 C483.55,63.42 484.67,61.93 485.30,61.00 C485.93,60.07 486.17,59.62 486.50,59.00 C486.83,58.38 487.10,57.72 487.30,57.30 C487.50,56.88 487.63,56.63 487.70,56.50 Z" fill="#c4001f" stroke="#2a0a10" stroke-width="0.6" stroke-linejoin="round"/>
<path d="M425.50,53.70 L425.50,119.80 L512.60,119.80" fill="none" stroke="#111111" stroke-width="1.3"/>
<line x1="422.40" y1="116.90" x2="425.50" y2="116.90" stroke="#111111" stroke-width="1.0"/>
<text x="419.30" y="119.25" font-size="6.7" text-anchor="end" fill="#2e2e2e" stroke="#2e2e2e" class="sm">0</text>
<line x1="422.40" y1="99.80" x2="425.50" y2="99.80" stroke="#111111" stroke-width="1.0"/>
<text x="419.30" y="102.15" font-size="6.7" text-anchor="end" fill="#2e2e2e" stroke="#2e2e2e" class="sm">1</text>
<line x1="422.40" y1="82.70" x2="425.50" y2="82.70" stroke="#111111" stroke-width="1.0"/>
<text x="419.30" y="85.05" font-size="6.7" text-anchor="end" fill="#2e2e2e" stroke="#2e2e2e" class="sm">2</text>
<line x1="422.40" y1="65.70" x2="425.50" y2="65.70" stroke="#111111" stroke-width="1.0"/>
<text x="419.30" y="68.05" font-size="6.7" text-anchor="end" fill="#2e2e2e" stroke="#2e2e2e" class="sm">3</text>
<line x1="449.50" y1="119.80" x2="449.50" y2="122.90" stroke="#111111" stroke-width="1.0"/>
<line x1="489.20" y1="119.80" x2="489.20" y2="122.90" stroke="#111111" stroke-width="1.0"/>
<text x="468.45" y="44.60" font-size="9.6" text-anchor="middle" textLength="25.30" lengthAdjust="spacingAndGlyphs" fill="#333333" stroke="#333333">ITGA1</text>
<line x1="448.80" y1="53.10" x2="490.00" y2="53.10" stroke="#333" stroke-width="1.1"/>
<circle cx="463.95" cy="50.50" r="1.0" fill="#333"/>
<circle cx="466.85" cy="50.50" r="1.0" fill="#333"/>
<circle cx="469.75" cy="50.50" r="1.0" fill="#333"/>
<circle cx="472.65" cy="50.50" r="1.0" fill="#333"/>
<text x="0" y="0" font-size="8.6" text-anchor="middle" class="yl" fill="#333333" stroke="#333333" textLength="49.30" lengthAdjust="spacingAndGlyphs" transform="translate(409.90,86.35) rotate(-90)">Expression level</text>
<text x="449.50" y="132.00" font-size="6.6" text-anchor="middle" fill="#3a3a3a" stroke="#3a3a3a" class="sm">Isotype</text>
<text x="489.20" y="132.00" font-size="6.6" text-anchor="middle" fill="#3a3a3a" stroke="#3a3a3a" class="sm">CD161</text>
<text x="489.20" y="140.00" font-size="6.6" text-anchor="middle" fill="#3a3a3a" stroke="#3a3a3a" class="sm">Blockade</text>
<text x="489.20" y="148.00" font-size="6.6" text-anchor="middle" fill="#3a3a3a" stroke="#3a3a3a" class="sm">(KW7.3.7)</text>
<path d="M324.20,194.80 C324.35,196.20 324.82,200.85 325.10,203.20 C325.38,205.55 325.68,207.02 325.90,208.90 C326.12,210.78 326.28,212.98 326.40,214.50 C326.52,216.02 326.48,216.88 326.60,218.00 C326.72,219.12 326.67,220.15 327.10,221.20 C327.53,222.25 328.58,223.25 329.20,224.30 C329.82,225.35 330.47,226.45 330.80,227.50 C331.13,228.55 331.15,229.38 331.20,230.60 C331.25,231.82 331.08,233.72 331.10,234.80 C331.12,235.88 331.15,236.45 331.30,237.10 C331.45,237.75 331.57,238.23 332.00,238.70 C332.43,239.17 333.20,239.52 333.90,239.90 C334.60,240.28 335.45,240.63 336.20,241.00 C336.95,241.37 337.70,241.73 338.40,242.10 C339.10,242.47 339.80,242.78 340.40,243.20 C341.00,243.62 341.70,244.25 342.00,244.60 C342.30,244.95 342.17,245.18 342.20,245.30 L306.20,245.30 C306.23,245.18 306.10,244.95 306.40,244.60 C306.70,244.25 307.40,243.62 308.00,243.20 C308.60,242.78 309.30,242.47 310.00,242.10 C310.70,241.73 311.45,241.37 312.20,241.00 C312.95,240.63 313.80,240.28 314.50,239.90 C315.20,239.52 315.97,239.17 316.40,238.70 C316.83,238.23 316.95,237.75 317.10,237.10 C317.25,236.45 317.28,235.88 317.30,234.80 C317.32,233.72 317.15,231.82 317.20,230.60 C317.25,229.38 317.27,228.55 317.60,227.50 C317.93,226.45 318.58,225.35 319.20,224.30 C319.82,223.25 320.87,222.25 321.30,221.20 C321.73,220.15 321.68,219.12 321.80,218.00 C321.92,216.88 321.88,216.02 322.00,214.50 C322.12,212.98 322.28,210.78 322.50,208.90 C322.72,207.02 323.02,205.55 323.30,203.20 C323.58,200.85 324.05,196.20 324.20,194.80 Z" fill="#c5c4c8" stroke="#3c3c3c" stroke-width="0.75" stroke-linejoin="round"/>
<path d="M364.10,185.30 C364.17,187.75 364.37,196.47 364.50,200.00 C364.63,203.53 364.75,204.72 364.90,206.50 C365.05,208.28 365.18,209.30 365.40,210.70 C365.62,212.10 365.92,213.67 366.20,214.90 C366.48,216.13 366.73,217.05 367.10,218.10 C367.47,219.15 367.90,220.15 368.40,221.20 C368.90,222.25 369.55,223.35 370.10,224.40 C370.65,225.45 371.25,226.57 371.70,227.50 C372.15,228.43 372.47,229.05 372.80,230.00 C373.13,230.95 373.52,232.15 373.70,233.20 C373.88,234.25 373.95,235.37 373.90,236.30 C373.85,237.23 373.32,238.12 373.40,238.80 C373.48,239.48 373.92,239.97 374.40,240.40 C374.88,240.83 375.57,241.03 376.30,241.40 C377.03,241.77 378.02,242.18 378.80,242.60 C379.58,243.02 380.48,243.53 381.00,243.90 C381.52,244.27 381.72,244.57 381.90,244.80 C382.08,245.03 382.07,245.22 382.10,245.30 L346.10,245.30 C346.13,245.22 346.12,245.03 346.30,244.80 C346.48,244.57 346.68,244.27 347.20,243.90 C347.72,243.53 348.62,243.02 349.40,242.60 C350.18,242.18 351.17,241.77 351.90,241.40 C352.63,241.03 353.32,240.83 353.80,240.40 C354.28,239.97 354.72,239.48 354.80,238.80 C354.88,238.12 354.35,237.23 354.30,236.30 C354.25,235.37 354.32,234.25 354.50,233.20 C354.68,232.15 355.07,230.95 355.40,230.00 C355.73,229.05 356.05,228.43 356.50,227.50 C356.95,226.57 357.55,225.45 358.10,224.40 C358.65,223.35 359.30,222.25 359.80,221.20 C360.30,220.15 360.73,219.15 361.10,218.10 C361.47,217.05 361.72,216.13 362.00,214.90 C362.28,213.67 362.58,212.10 362.80,210.70 C363.02,209.30 363.15,208.28 363.30,206.50 C363.45,204.72 363.57,203.53 363.70,200.00 C363.83,196.47 364.03,187.75 364.10,185.30 Z" fill="#c4001f" stroke="#2a0a10" stroke-width="0.6" stroke-linejoin="round"/>
<path d="M300.50,182.40 L300.50,248.20 L387.50,248.20" fill="none" stroke="#111111" stroke-width="1.3"/>
<line x1="297.40" y1="245.30" x2="300.50" y2="245.30" stroke="#111111" stroke-width="1.0"/>
<text x="294.30" y="247.65" font-size="6.7" text-anchor="end" fill="#2e2e2e" stroke="#2e2e2e" class="sm">0</text>
<line x1="297.40" y1="227.30" x2="300.50" y2="227.30" stroke="#111111" stroke-width="1.0"/>
<text x="294.30" y="229.65" font-size="6.7" text-anchor="end" fill="#2e2e2e" stroke="#2e2e2e" class="sm">1</text>
<line x1="297.40" y1="209.00" x2="300.50" y2="209.00" stroke="#111111" stroke-width="1.0"/>
<text x="294.30" y="211.35" font-size="6.7" text-anchor="end" fill="#2e2e2e" stroke="#2e2e2e" class="sm">2</text>
<line x1="297.40" y1="191.20" x2="300.50" y2="191.20" stroke="#111111" stroke-width="1.0"/>
<text x="294.30" y="193.55" font-size="6.7" text-anchor="end" fill="#2e2e2e" stroke="#2e2e2e" class="sm">3</text>
<line x1="324.20" y1="248.20" x2="324.20" y2="251.30" stroke="#111111" stroke-width="1.0"/>
<line x1="364.10" y1="248.20" x2="364.10" y2="251.30" stroke="#111111" stroke-width="1.0"/>
<text x="343.95" y="169.80" font-size="9.6" text-anchor="middle" textLength="23.30" lengthAdjust="spacingAndGlyphs" fill="#333333" stroke="#333333">CD69</text>
<line x1="323.20" y1="181.10" x2="364.10" y2="181.10" stroke="#333" stroke-width="1.1"/>
<text x="330.50" y="179.80" font-size="7" class="sm" fill="#333333" stroke="#333333" textLength="27.90" lengthAdjust="spacingAndGlyphs"><tspan font-style="italic">P</tspan> = .2561</text>
<text x="0" y="0" font-size="8.6" text-anchor="middle" class="yl" fill="#333333" stroke="#333333" textLength="49.10" lengthAdjust="spacingAndGlyphs" transform="translate(284.90,214.95) rotate(-90)">Expression level</text>
<text x="324.20" y="260.40" font-size="6.6" text-anchor="middle" fill="#3a3a3a" stroke="#3a3a3a" class="sm">Isotype</text>
<text x="364.10" y="260.40" font-size="6.6" text-anchor="middle" fill="#3a3a3a" stroke="#3a3a3a" class="sm">CD161</text>
<text x="364.10" y="268.30" font-size="6.6" text-anchor="middle" fill="#3a3a3a" stroke="#3a3a3a" class="sm">Blockade</text>
<text x="364.10" y="276.20" font-size="6.6" text-anchor="middle" fill="#3a3a3a" stroke="#3a3a3a" class="sm">(KW7.3.7)</text>
<path d="M449.30,185.70 C449.40,186.35 449.67,188.02 449.90,189.60 C450.13,191.18 450.38,193.32 450.70,195.20 C451.02,197.08 451.27,199.02 451.80,200.90 C452.33,202.78 453.18,204.63 453.90,206.50 C454.62,208.37 455.50,210.60 456.10,212.10 C456.70,213.60 457.08,214.58 457.50,215.50 C457.92,216.42 458.22,216.65 458.60,217.60 C458.98,218.55 459.60,220.02 459.80,221.20 C460.00,222.38 460.00,223.52 459.80,224.70 C459.60,225.88 459.08,227.42 458.60,228.30 C458.12,229.18 457.43,229.40 456.90,230.00 C456.37,230.60 455.87,231.27 455.40,231.90 C454.93,232.53 454.42,233.17 454.10,233.80 C453.78,234.43 453.52,235.18 453.50,235.70 C453.48,236.22 453.68,236.48 454.00,236.90 C454.32,237.32 454.75,237.77 455.40,238.20 C456.05,238.63 457.07,239.08 457.90,239.50 C458.73,239.92 459.57,240.28 460.40,240.70 C461.23,241.12 462.12,241.58 462.90,242.00 C463.68,242.42 464.43,242.73 465.10,243.20 C465.77,243.67 466.53,244.45 466.90,244.80 C467.27,245.15 467.23,245.22 467.30,245.30 L431.30,245.30 C431.37,245.22 431.33,245.15 431.70,244.80 C432.07,244.45 432.83,243.67 433.50,243.20 C434.17,242.73 434.92,242.42 435.70,242.00 C436.48,241.58 437.37,241.12 438.20,240.70 C439.03,240.28 439.87,239.92 440.70,239.50 C441.53,239.08 442.55,238.63 443.20,238.20 C443.85,237.77 444.28,237.32 444.60,236.90 C444.92,236.48 445.12,236.22 445.10,235.70 C445.08,235.18 444.82,234.43 444.50,233.80 C444.18,233.17 443.67,232.53 443.20,231.90 C442.73,231.27 442.23,230.60 441.70,230.00 C441.17,229.40 440.48,229.18 440.00,228.30 C439.52,227.42 439.00,225.88 438.80,224.70 C438.60,223.52 438.60,222.38 438.80,221.20 C439.00,220.02 439.62,218.55 440.00,217.60 C440.38,216.65 440.68,216.42 441.10,215.50 C441.52,214.58 441.90,213.60 442.50,212.10 C443.10,210.60 443.98,208.37 444.70,206.50 C445.42,204.63 446.27,202.78 446.80,200.90 C447.33,199.02 447.58,197.08 447.90,195.20 C448.22,193.32 448.47,191.18 448.70,189.60 C448.93,188.02 449.20,186.35 449.30,185.70 Z" fill="#c5c4c8" stroke="#3c3c3c" stroke-width="0.75" stroke-linejoin="round"/>
<path d="M489.00,185.30 C489.08,186.02 489.27,187.95 489.50,189.60 C489.73,191.25 490.02,193.32 490.40,195.20 C490.78,197.08 491.25,199.02 491.80,200.90 C492.35,202.78 493.02,204.63 493.70,206.50 C494.38,208.37 495.28,210.60 495.90,212.10 C496.52,213.60 496.97,214.58 497.40,215.50 C497.83,216.42 498.15,216.65 498.50,217.60 C498.85,218.55 499.38,220.02 499.50,221.20 C499.62,222.38 499.40,223.52 499.20,224.70 C499.00,225.88 498.75,227.42 498.30,228.30 C497.85,229.18 496.95,229.40 496.50,230.00 C496.05,230.60 495.92,231.27 495.60,231.90 C495.28,232.53 494.83,233.17 494.60,233.80 C494.37,234.43 494.23,235.18 494.20,235.70 C494.17,236.22 494.17,236.48 494.40,236.90 C494.63,237.32 495.03,237.77 495.60,238.20 C496.17,238.63 497.02,239.08 497.80,239.50 C498.58,239.92 499.47,240.28 500.30,240.70 C501.13,241.12 502.02,241.58 502.80,242.00 C503.58,242.42 504.37,242.73 505.00,243.20 C505.63,243.67 506.27,244.45 506.60,244.80 C506.93,245.15 506.93,245.22 507.00,245.30 L471.00,245.30 C471.07,245.22 471.07,245.15 471.40,244.80 C471.73,244.45 472.37,243.67 473.00,243.20 C473.63,242.73 474.42,242.42 475.20,242.00 C475.98,241.58 476.87,241.12 477.70,240.70 C478.53,240.28 479.42,239.92 480.20,239.50 C480.98,239.08 481.83,238.63 482.40,238.20 C482.97,237.77 483.37,237.32 483.60,236.90 C483.83,236.48 483.83,236.22 483.80,235.70 C483.77,235.18 483.63,234.43 483.40,233.80 C483.17,233.17 482.72,232.53 482.40,231.90 C482.08,231.27 481.95,230.60 481.50,230.00 C481.05,229.40 480.15,229.18 479.70,228.30 C479.25,227.42 479.00,225.88 478.80,224.70 C478.60,223.52 478.38,222.38 478.50,221.20 C478.62,220.02 479.15,218.55 479.50,217.60 C479.85,216.65 480.17,216.42 480.60,215.50 C481.03,214.58 481.48,213.60 482.10,212.10 C482.72,210.60 483.62,208.37 484.30,206.50 C484.98,204.63 485.65,202.78 486.20,200.90 C486.75,199.02 487.22,197.08 487.60,195.20 C487.98,193.32 488.27,191.25 488.50,189.60 C488.73,187.95 488.92,186.02 489.00,185.30 Z" fill="#c4001f" stroke="#2a0a10" stroke-width="0.6" stroke-linejoin="round"/>
<path d="M425.50,182.40 L425.50,247.70 L512.60,247.70" fill="none" stroke="#111111" stroke-width="1.3"/>
<line x1="422.40" y1="244.80" x2="425.50" y2="244.80" stroke="#111111" stroke-width="1.0"/>
<text x="419.30" y="247.15" font-size="6.7" text-anchor="end" fill="#2e2e2e" stroke="#2e2e2e" class="sm">0.0</text>
<line x1="422.40" y1="228.70" x2="425.50" y2="228.70" stroke="#111111" stroke-width="1.0"/>
<text x="419.30" y="231.05" font-size="6.7" text-anchor="end" fill="#2e2e2e" stroke="#2e2e2e" class="sm">0.5</text>
<line x1="422.40" y1="212.10" x2="425.50" y2="212.10" stroke="#111111" stroke-width="1.0"/>
<text x="419.30" y="214.45" font-size="6.7" text-anchor="end" fill="#2e2e2e" stroke="#2e2e2e" class="sm">1.0</text>
<line x1="422.40" y1="195.30" x2="425.50" y2="195.30" stroke="#111111" stroke-width="1.0"/>
<text x="419.30" y="197.65" font-size="6.7" text-anchor="end" fill="#2e2e2e" stroke="#2e2e2e" class="sm">1.5</text>
<line x1="449.30" y1="247.70" x2="449.30" y2="250.80" stroke="#111111" stroke-width="1.0"/>
<line x1="489.00" y1="247.70" x2="489.00" y2="250.80" stroke="#111111" stroke-width="1.0"/>
<text x="468.70" y="169.80" font-size="9.6" text-anchor="middle" textLength="25.80" lengthAdjust="spacingAndGlyphs" fill="#333333" stroke="#333333">ITGAE</text>
<line x1="448.20" y1="180.90" x2="489.70" y2="180.90" stroke="#333" stroke-width="1.1"/>
<text x="455.70" y="179.80" font-size="7" class="sm" fill="#333333" stroke="#333333" textLength="28.20" lengthAdjust="spacingAndGlyphs"><tspan font-style="italic">P</tspan> = .3672</text>
<text x="0" y="0" font-size="8.6" text-anchor="middle" class="yl" fill="#333333" stroke="#333333" textLength="49.00" lengthAdjust="spacingAndGlyphs" transform="translate(404.80,214.90) rotate(-90)">Expression level</text>
<text x="449.30" y="260.40" font-size="6.6" text-anchor="middle" fill="#3a3a3a" stroke="#3a3a3a" class="sm">Isotype</text>
<text x="489.00" y="260.40" font-size="6.6" text-anchor="middle" fill="#3a3a3a" stroke="#3a3a3a" class="sm">CD161</text>
<text x="489.00" y="268.30" font-size="6.6" text-anchor="middle" fill="#3a3a3a" stroke="#3a3a3a" class="sm">Blockade</text>
<text x="489.00" y="276.20" font-size="6.6" text-anchor="middle" fill="#3a3a3a" stroke="#3a3a3a" class="sm">(KW7.3.7)</text>
</svg>
<div class="bd" id="bt"></div><div class="bd" id="bl"></div><div class="bd" id="br"></div><div class="bd" id="bb"></div>
</div></body></html>
